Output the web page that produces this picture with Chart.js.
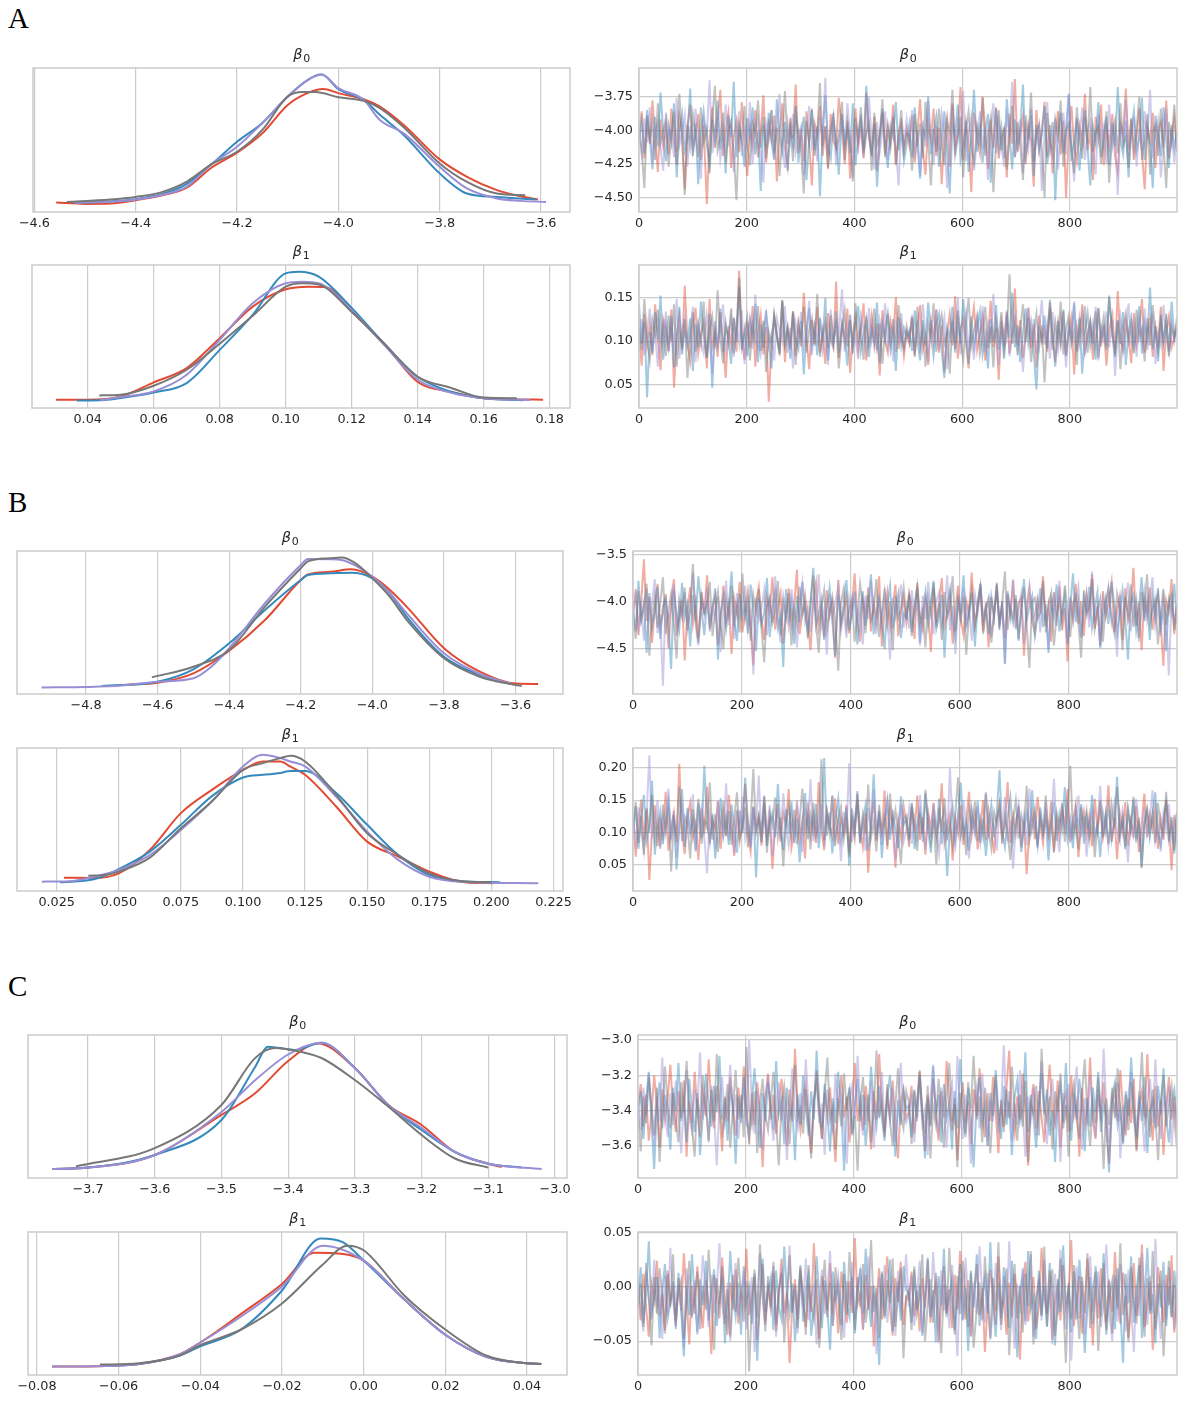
<!DOCTYPE html>
<html>
<head>
<meta charset="utf-8">
<script src="https://cdn.jsdelivr.net/npm/chart.js@4.4.1/dist/chart.umd.min.js"></script>
<style>
  html, body { margin: 0; background: #fff; }
  #fig { position: relative; width: 1183px; height: 1401px; overflow: hidden; }
  #fig canvas { position: absolute; }
  .letter { position: absolute; font: 29px "Liberation Serif", serif; line-height: 29px; color: #000; }
</style>
</head>
<body>
<div id="fig">
  <div class="letter" style="left:8px;top:4px">A</div>
  <div class="letter" style="left:8px;top:488px">B</div>
  <div class="letter" style="left:8px;top:972px">C</div>
</div>
<script>
// ---- chain colours (chain 0..3) ----
const CHAIN_COLORS = ['#E24A33', '#348ABD', '#988ED5', '#777777'];
const TRACE_COLORS = ['rgba(226,74,51,0.45)', 'rgba(52,138,189,0.45)', 'rgba(152,142,213,0.45)', 'rgba(119,119,119,0.45)'];

// ---- tick values ----
const kdeTicksA0 = [-4.6, -4.4, -4.2, -4.0, -3.8, -3.6];
const kdeTicksA1 = [0.04, 0.06, 0.08, 0.10, 0.12, 0.14, 0.16, 0.18];
const kdeTicksB0 = [-4.8, -4.6, -4.4, -4.2, -4.0, -3.8, -3.6];
const kdeTicksB1 = [0.025, 0.050, 0.075, 0.100, 0.125, 0.150, 0.175, 0.200, 0.225];
const kdeTicksC0 = [-3.7, -3.6, -3.5, -3.4, -3.3, -3.2, -3.1, -3.0];
const kdeTicksC1 = [-0.08, -0.06, -0.04, -0.02, 0.00, 0.02, 0.04];
const drawTicks = [0, 200, 400, 600, 800];
const traceTicksA0 = [-4.50, -4.25, -4.00, -3.75];
const traceTicksA1 = [0.05, 0.10, 0.15];
const traceTicksB0 = [-4.5, -4.0, -3.5];
const traceTicksB1 = [0.05, 0.10, 0.15, 0.20];
const traceTicksC0 = [-3.6, -3.4, -3.2, -3.0];
const traceTicksC1 = [-0.05, 0.00, 0.05];

// ---- posterior densities [value, relative density] ----
const kdeA0Red = [[-4.557,0.022],[-4.50,0.012],[-4.45,0.015],[-4.40,0.04],[-4.35,0.075],[-4.30,0.134],[-4.25,0.29],[-4.20,0.403],[-4.15,0.551],[-4.10,0.768],[-4.06,0.86],[-4.03,0.889],[-4.00,0.858],[-3.95,0.812],[-3.918,0.755],[-3.871,0.615],[-3.80,0.352],[-3.746,0.219],[-3.687,0.117],[-3.64,0.07],[-3.606,0.045]];
const kdeA0Blue = [[-4.52,0.02],[-4.45,0.03],[-4.40,0.048],[-4.35,0.085],[-4.30,0.163],[-4.25,0.316],[-4.20,0.487],[-4.15,0.63],[-4.10,0.832],[-4.06,0.96],[-4.033,1.0],[-4.00,0.889],[-3.95,0.807],[-3.918,0.692],[-3.871,0.538],[-3.80,0.245],[-3.746,0.091],[-3.687,0.065],[-3.61,0.045]];
const kdeA0Purple = [[-4.52,0.02],[-4.45,0.028],[-4.40,0.045],[-4.35,0.08],[-4.30,0.142],[-4.25,0.316],[-4.20,0.449],[-4.15,0.63],[-4.10,0.832],[-4.06,0.96],[-4.033,1.0],[-4.00,0.896],[-3.95,0.807],[-3.918,0.653],[-3.871,0.551],[-3.80,0.295],[-3.746,0.13],[-3.687,0.053],[-3.64,0.035],[-3.59,0.027]];
const kdeA0Gray = [[-4.536,0.027],[-4.45,0.045],[-4.40,0.065],[-4.35,0.10],[-4.30,0.18],[-4.25,0.316],[-4.20,0.41],[-4.15,0.577],[-4.10,0.832],[-4.07,0.866],[-4.046,0.866],[-4.00,0.827],[-3.95,0.799],[-3.918,0.743],[-3.871,0.597],[-3.80,0.321],[-3.746,0.18],[-3.687,0.091],[-3.631,0.078]];

const kdeA1Red = [[0.0304,0.014],[0.04,0.014],[0.05,0.039],[0.06,0.147],[0.07,0.257],[0.08,0.487],[0.09,0.73],[0.10,0.863],[0.107,0.883],[0.112,0.88],[0.12,0.69],[0.13,0.44],[0.14,0.15],[0.15,0.075],[0.16,0.025],[0.17,0.016],[0.178,0.014]];
const kdeA1Blue = [[0.0367,0.008],[0.045,0.012],[0.05,0.027],[0.06,0.07],[0.07,0.142],[0.08,0.397],[0.09,0.666],[0.10,0.986],[0.104,0.998],[0.11,0.96],[0.12,0.72],[0.13,0.44],[0.14,0.19],[0.15,0.075],[0.16,0.025],[0.172,0.01]];
const kdeA1Purple = [[0.0437,0.01],[0.05,0.034],[0.06,0.078],[0.07,0.206],[0.08,0.474],[0.09,0.756],[0.10,0.91],[0.105,0.922],[0.11,0.91],[0.12,0.70],[0.13,0.43],[0.14,0.167],[0.15,0.068],[0.16,0.025],[0.174,0.012]];
const kdeA1Gray = [[0.0435,0.047],[0.05,0.052],[0.06,0.121],[0.07,0.244],[0.08,0.444],[0.09,0.659],[0.10,0.883],[0.105,0.91],[0.11,0.90],[0.12,0.69],[0.13,0.44],[0.14,0.19],[0.15,0.106],[0.16,0.03],[0.17,0.025]];

const kdeB0Red = [[-4.686,0.022],[-4.6,0.037],[-4.5,0.109],[-4.4,0.283],[-4.3,0.519],[-4.2,0.827],[-4.18,0.87],[-4.118,0.89],[-4.058,0.909],[-4.0,0.852],[-3.951,0.75],[-3.9,0.609],[-3.8,0.302],[-3.7,0.122],[-3.6,0.03],[-3.537,0.027]];
const kdeB0Blue = [[-4.756,0.012],[-4.6,0.045],[-4.5,0.14],[-4.4,0.34],[-4.3,0.596],[-4.2,0.827],[-4.18,0.865],[-4.118,0.878],[-4.058,0.883],[-4.0,0.84],[-3.951,0.725],[-3.9,0.53],[-3.8,0.237],[-3.7,0.096],[-3.639,0.045]];
const kdeB0Purple = [[-4.924,0.0],[-4.8,0.004],[-4.7,0.015],[-4.6,0.045],[-4.5,0.071],[-4.45,0.16],[-4.4,0.302],[-4.3,0.648],[-4.2,0.942],[-4.18,0.988],[-4.118,0.986],[-4.086,0.98],[-4.0,0.852],[-3.951,0.725],[-3.9,0.558],[-3.8,0.263],[-3.7,0.104],[-3.611,0.027]];
const kdeB0Gray = [[-4.616,0.078],[-4.5,0.16],[-4.4,0.288],[-4.3,0.622],[-4.2,0.917],[-4.18,0.97],[-4.118,0.994],[-4.086,1.0],[-4.05,0.96],[-4.0,0.84],[-3.951,0.698],[-3.9,0.506],[-3.8,0.225],[-3.7,0.083],[-3.6,0.02],[-3.583,0.012]];

const kdeB1Red = [[0.0279,0.052],[0.04,0.05],[0.05,0.086],[0.0625,0.266],[0.075,0.549],[0.0875,0.728],[0.1,0.882],[0.108,0.946],[0.115,0.946],[0.119,0.908],[0.125,0.844],[0.1375,0.6],[0.15,0.33],[0.1625,0.214],[0.175,0.099],[0.1875,0.022],[0.2008,0.009]];
const kdeB1Blue = [[0.0263,0.017],[0.04,0.04],[0.05,0.119],[0.0625,0.253],[0.075,0.459],[0.0875,0.68],[0.1,0.823],[0.108,0.844],[0.115,0.857],[0.119,0.874],[0.125,0.874],[0.1375,0.703],[0.15,0.459],[0.1625,0.227],[0.175,0.073],[0.1875,0.027],[0.2035,0.017]];
const kdeB1Purple = [[0.019,0.022],[0.03,0.025],[0.04,0.06],[0.05,0.112],[0.0625,0.227],[0.075,0.42],[0.0875,0.64],[0.1,0.908],[0.108,0.998],[0.115,0.972],[0.119,0.946],[0.125,0.908],[0.1375,0.676],[0.15,0.407],[0.1625,0.189],[0.175,0.06],[0.1875,0.022],[0.2189,0.009]];
const kdeB1Gray = [[0.0377,0.068],[0.045,0.075],[0.05,0.099],[0.0625,0.207],[0.075,0.433],[0.0875,0.64],[0.1,0.882],[0.108,0.934],[0.115,0.972],[0.1192,0.99],[0.125,0.946],[0.1375,0.69],[0.15,0.394],[0.1625,0.227],[0.175,0.086],[0.1875,0.027],[0.2,0.017]];

const kdeC0Red = [[-3.754,0.02],[-3.7,0.03],[-3.6,0.127],[-3.5,0.435],[-3.45,0.6],[-3.4,0.85],[-3.355,0.985],[-3.3,0.796],[-3.25,0.512],[-3.2,0.358],[-3.15,0.15],[-3.1,0.06],[-3.08,0.035]];
const kdeC0Blue = [[-3.75,0.02],[-3.7,0.03],[-3.6,0.127],[-3.5,0.396],[-3.45,0.8],[-3.43,0.96],[-3.39,0.935],[-3.35,0.99],[-3.3,0.796],[-3.25,0.512],[-3.2,0.319],[-3.15,0.15],[-3.1,0.06],[-3.05,0.03]];
const kdeC0Purple = [[-3.754,0.02],[-3.7,0.03],[-3.6,0.127],[-3.5,0.458],[-3.45,0.7],[-3.4,0.9],[-3.35,0.99],[-3.3,0.796],[-3.25,0.512],[-3.2,0.335],[-3.15,0.15],[-3.1,0.06],[-3.02,0.02]];
const kdeC0Gray = [[-3.718,0.04],[-3.6,0.18],[-3.5,0.512],[-3.45,0.87],[-3.42,0.95],[-3.38,0.92],[-3.35,0.873],[-3.3,0.704],[-3.25,0.5],[-3.2,0.281],[-3.15,0.1],[-3.1,0.03]];

const kdeC1Red = [[-0.0763,0.015],[-0.065,0.018],[-0.055,0.035],[-0.045,0.11],[-0.04,0.2],[-0.03,0.42],[-0.02,0.65],[-0.012,0.89],[-0.005,0.88],[0.0,0.83],[0.01,0.53],[0.02,0.26],[0.03,0.09],[0.04,0.04],[0.0435,0.035]];
const kdeC1Blue = [[-0.0646,0.02],[-0.055,0.035],[-0.045,0.1],[-0.04,0.17],[-0.03,0.3],[-0.02,0.6],[-0.0105,1.0],[-0.005,0.97],[0.0,0.83],[0.01,0.53],[0.02,0.26],[0.03,0.09],[0.04,0.04],[0.0435,0.035]];
const kdeC1Purple = [[-0.0763,0.015],[-0.065,0.018],[-0.055,0.035],[-0.045,0.11],[-0.04,0.2],[-0.03,0.4],[-0.02,0.63],[-0.01,0.945],[0.0,0.83],[0.01,0.53],[0.02,0.26],[0.03,0.09],[0.04,0.04],[0.0435,0.035]];
const kdeC1Gray = [[-0.0646,0.03],[-0.055,0.04],[-0.045,0.1],[-0.04,0.18],[-0.03,0.3],[-0.02,0.5],[-0.01,0.8],[-0.004,0.945],[0.0,0.91],[0.01,0.56],[0.02,0.3],[0.03,0.1],[0.04,0.04],[0.0435,0.035]];

// ---- sampled chains (every 5th draw) ----
const traceA0Red = [-4.02,-3.86,-4.21,-3.95,-4.10,-3.78,-4.05,-4.31,-3.92,-4.12,-3.99,-4.18,-3.84,-4.07,-4.26,-3.90,-4.01,-4.44,-3.97,-3.81,-4.15,-4.03,-3.88,-4.22,-3.96,-4.55,-4.08,-3.83,-4.13,-3.94,-3.70,-4.19,-4.00,-3.87,-4.28,-4.05,-3.93,-4.16,-3.79,-4.09,-4.34,-3.98,-4.11,-3.85,-4.20,-4.02,-3.74,-4.24,-3.96,-4.07,-3.89,-4.38,-4.01,-3.80,-4.14,-4.27,-3.91,-4.06,-3.66,-4.17,-3.99,-4.23,-3.86,-4.10,-4.41,-3.95,-4.04,-3.82,-4.19,-3.97,-4.29,-3.88,-4.08,-4.13,-3.76,-4.00,-4.25,-3.93,-4.36,-4.05,-3.84,-4.12,-3.98,-4.21,-3.72,-4.06,-4.16,-3.90,-4.30,-4.03,-3.87,-4.18,-3.96,-4.09,-3.81,-4.26,-4.02,-3.94,-4.14,-3.99,
  -4.11,-3.89,-4.24,-4.01,-3.77,-4.15,-4.33,-3.95,-4.07,-3.84,-4.19,-3.98,-4.40,-4.04,-3.91,-4.27,-3.80,-4.12,-4.02,-3.68,-4.22,-3.94,-4.09,-4.46,-3.87,-4.05,-4.17,-3.75,-4.00,-4.29,-3.92,-4.13,-3.83,-4.21,-4.06,-3.99,-4.35,-3.88,-4.10,-3.62,-4.16,-4.03,-3.90,-4.25,-3.97,-4.08,-4.42,-3.85,-4.14,-4.01,-3.79,-4.20,-3.96,-4.32,-4.07,-3.86,-4.18,-3.93,-4.50,-4.04,-3.82,-4.12,-4.23,-3.97,-4.09,-3.73,-4.15,-4.02,-4.37,-3.90,-4.06,-3.81,-4.26,-3.99,-4.11,-3.88,-4.19,-4.31,-3.95,-4.03,-3.69,-4.14,-3.92,-4.22,-4.05,-3.84,-4.17,-4.44,-3.98,-4.08,-3.87,-4.28,-4.00,-3.94,-4.13,-3.78,-4.21,-4.06,-3.91,-4.16];
const traceA0Blue = [-4.08,-3.93,-4.17,-3.85,-4.04,-4.29,-3.90,-4.12,-3.72,-4.01,-4.23,-3.97,-4.09,-3.80,-4.35,-4.02,-3.88,-4.15,-4.06,-3.69,-4.19,-3.95,-4.40,-4.03,-3.86,-4.11,-4.25,-3.92,-4.07,-3.78,-4.14,-4.00,-4.32,-3.89,-4.05,-3.64,-4.20,-3.98,-4.10,-4.27,-3.91,-4.06,-3.83,-4.18,-4.01,-4.45,-3.96,-4.13,-3.87,-4.08,-4.22,-3.77,-4.04,-4.16,-3.94,-4.30,-3.99,-4.11,-3.82,-4.24,-4.03,-3.90,-4.37,-4.07,-3.85,-4.15,-3.97,-4.49,-4.02,-3.74,-4.12,-4.21,-3.93,-4.06,-4.33,-3.88,-4.09,-3.99,-4.17,-3.80,-4.26,-4.04,-3.92,-4.14,-3.67,-4.01,-4.19,-3.95,-4.42,-4.08,-3.84,-4.10,-4.28,-3.97,-4.05,-3.79,-4.15,-4.00,-4.23,-4.11,
  -3.96,-4.20,-3.83,-4.10,-4.36,-3.99,-4.05,-3.75,-4.18,-4.02,-3.90,-4.27,-4.08,-3.86,-4.14,-4.47,-3.97,-4.03,-3.81,-4.22,-4.11,-3.93,-4.31,-4.06,-3.70,-4.16,-3.95,-4.24,-4.01,-3.88,-4.39,-4.09,-3.84,-4.13,-3.98,-4.21,-3.77,-4.04,-4.29,-3.92,-4.12,-4.00,-3.66,-4.19,-4.07,-3.89,-4.34,-3.96,-4.15,-4.03,-3.82,-4.25,-4.10,-3.94,-4.52,-4.05,-3.87,-4.17,-3.99,-3.73,-4.23,-4.08,-3.91,-4.30,-4.02,-3.85,-4.14,-4.41,-3.97,-4.09,-3.79,-4.20,-4.04,-3.90,-4.26,-3.95,-4.12,-3.68,-4.07,-4.18,-3.93,-4.35,-4.01,-3.86,-4.15,-4.06,-3.76,-4.22,-3.98,-4.11,-4.43,-3.89,-4.04,-4.19,-3.83,-4.08,-4.28,-3.96,-4.13,-4.00];
const traceA0Purple = [-4.05,-4.18,-3.91,-4.09,-3.83,-4.24,-4.00,-3.95,-4.13,-4.30,-3.87,-4.06,-3.99,-4.20,-3.76,-4.11,-4.02,-3.89,-4.27,-3.97,-4.14,-3.84,-4.07,-4.36,-3.93,-4.03,-3.63,-4.17,-4.01,-3.90,-4.22,-4.08,-3.81,-4.12,-3.96,-4.31,-4.04,-3.86,-4.19,-3.99,-4.10,-3.79,-4.25,-4.02,-3.92,-4.15,-4.39,-3.95,-4.06,-3.85,-4.21,-4.00,-3.73,-4.12,-4.28,-3.94,-4.08,-3.88,-4.16,-4.03,-3.97,-4.33,-4.05,-3.82,-4.11,-3.98,-4.23,-3.90,-4.07,-3.61,-4.18,-4.01,-3.87,-4.26,-4.09,-3.93,-4.14,-3.80,-4.04,-4.35,-3.96,-4.12,-3.89,-4.20,-4.02,-3.75,-4.08,-4.29,-3.94,-4.16,-4.00,-3.86,-4.22,-4.06,-3.91,-4.13,-4.41,-3.98,-4.10,-3.92,
  -4.09,-3.85,-4.21,-4.00,-4.34,-3.93,-4.12,-3.78,-4.06,-4.26,-3.97,-4.15,-3.88,-4.03,-4.43,-4.10,-3.82,-4.19,-3.95,-4.08,-3.71,-4.23,-4.01,-3.90,-4.30,-4.05,-3.86,-4.14,-3.98,-4.37,-4.04,-3.80,-4.17,-3.94,-4.11,-4.27,-3.89,-4.02,-3.64,-4.20,-4.07,-3.92,-4.32,-3.99,-4.13,-3.84,-4.24,-4.06,-3.96,-4.45,-4.01,-3.79,-4.16,-4.09,-3.91,-4.29,-4.03,-3.87,-4.18,-3.74,-4.10,-4.38,-3.95,-4.05,-3.83,-4.22,-4.00,-3.93,-4.14,-4.33,-3.88,-4.07,-3.97,-4.25,-3.81,-4.12,-4.02,-4.48,-3.94,-4.08,-3.77,-4.19,-4.04,-3.90,-4.27,-3.99,-4.15,-3.86,-4.06,-3.70,-4.21,-4.01,-3.92,-4.35,-4.10,-3.84,-4.17,-3.98,-4.24,-4.03];
const traceA0Gray = [-3.98,-4.14,-4.43,-3.89,-4.06,-3.94,-4.22,-3.80,-4.10,-4.01,-3.92,-4.27,-4.04,-3.86,-4.16,-3.73,-4.08,-4.48,-3.96,-4.12,-3.88,-4.03,-4.20,-3.83,-4.09,-3.99,-4.32,-3.91,-3.67,-4.15,-4.05,-3.87,-4.24,-4.00,-3.93,-4.18,-4.52,-3.97,-4.07,-3.82,-4.11,-4.26,-3.95,-4.02,-3.78,-4.13,-3.90,-4.21,-4.04,-3.85,-4.17,-3.98,-4.34,-4.06,-3.71,-4.10,-3.96,-4.23,-3.88,-4.01,-4.15,-4.47,-3.93,-4.08,-3.84,-4.19,-4.03,-3.65,-4.12,-3.97,-4.28,-4.00,-3.89,-4.14,-4.05,-3.79,-4.22,-3.94,-4.09,-4.38,-3.91,-4.06,-3.83,-4.17,-4.02,-3.95,-4.30,-3.87,-4.11,-4.04,-3.77,-4.20,-3.99,-4.13,-3.90,-4.25,-4.07,-3.85,-4.16,-4.02,
  -4.04,-4.30,-3.88,-4.12,-3.95,-4.21,-3.79,-4.07,-4.41,-3.99,-4.16,-3.84,-4.09,-4.26,-3.93,-4.02,-3.70,-4.18,-4.06,-3.90,-4.35,-4.00,-3.86,-4.13,-4.24,-3.97,-4.08,-3.76,-4.19,-4.03,-3.91,-4.46,-4.10,-3.85,-4.15,-3.98,-4.29,-4.05,-3.82,-4.20,-3.94,-4.11,-4.37,-3.89,-4.07,-3.72,-4.23,-4.01,-3.96,-4.14,-4.50,-3.87,-4.09,-4.18,-3.92,-4.04,-3.78,-4.27,-4.00,-3.95,-4.13,-4.32,-3.83,-4.06,-4.21,-3.90,-4.10,-3.68,-4.16,-4.02,-3.97,-4.25,-4.08,-3.86,-4.39,-4.03,-3.93,-4.17,-3.80,-4.11,-4.05,-4.28,-3.91,-4.14,-3.99,-3.75,-4.22,-4.07,-3.88,-4.33,-4.01,-3.96,-4.19,-3.84,-4.12,-4.43,-3.94,-4.09,-3.81,-4.15];

const traceA1Red = [0.108,0.072,0.131,0.095,0.119,0.084,0.142,0.101,0.067,0.125,0.112,0.089,0.136,0.047,0.104,0.128,0.091,0.163,0.099,0.077,0.115,0.138,0.086,0.107,0.121,0.069,0.148,0.094,0.110,0.082,0.133,0.101,0.058,0.117,0.096,0.126,0.088,0.180,0.103,0.079,0.122,0.093,0.140,0.071,0.109,0.130,0.085,0.116,0.031,0.098,0.127,0.106,0.090,0.145,0.076,0.113,0.100,0.134,0.083,0.119,0.094,0.155,0.105,0.068,0.124,0.097,0.139,0.087,0.111,0.074,0.132,0.102,0.092,0.168,0.081,0.118,0.099,0.137,0.064,0.108,0.126,0.089,0.114,0.143,0.078,0.104,0.129,0.095,0.120,0.061,0.135,0.100,0.087,0.123,0.106,0.150,0.091,0.116,0.083,0.110,
  0.097,0.128,0.084,0.113,0.141,0.091,0.106,0.073,0.122,0.101,0.136,0.087,0.118,0.064,0.109,0.131,0.095,0.151,0.080,0.114,0.125,0.099,0.069,0.117,0.139,0.090,0.108,0.127,0.078,0.104,0.146,0.093,0.115,0.056,0.121,0.102,0.133,0.086,0.111,0.160,0.096,0.124,0.081,0.107,0.138,0.092,0.119,0.070,0.129,0.100,0.113,0.088,0.144,0.105,0.076,0.120,0.097,0.134,0.083,0.110,0.127,0.062,0.116,0.098,0.142,0.089,0.108,0.123,0.079,0.103,0.137,0.094,0.118,0.072,0.112,0.130,0.085,0.157,0.101,0.090,0.121,0.106,0.075,0.132,0.096,0.114,0.148,0.087,0.109,0.125,0.082,0.117,0.099,0.139,0.066,0.111,0.128,0.093,0.104,0.120];
const traceA1Blue = [0.141,0.097,0.122,0.036,0.110,0.087,0.133,0.101,0.152,0.079,0.118,0.094,0.129,0.070,0.106,0.139,0.085,0.114,0.098,0.126,0.066,0.120,0.093,0.145,0.108,0.081,0.131,0.047,0.112,0.096,0.137,0.088,0.117,0.104,0.074,0.127,0.099,0.162,0.090,0.113,0.083,0.124,0.105,0.142,0.076,0.119,0.092,0.135,0.101,0.069,0.128,0.110,0.086,0.146,0.097,0.115,0.080,0.132,0.103,0.091,0.123,0.062,0.109,0.138,0.094,0.116,0.084,0.126,0.100,0.149,0.078,0.111,0.096,0.134,0.087,0.121,0.105,0.072,0.130,0.093,0.117,0.140,0.089,0.108,0.125,0.082,0.113,0.098,0.144,0.075,0.119,0.102,0.131,0.090,0.109,0.066,0.127,0.095,0.115,0.104,
  0.112,0.089,0.135,0.101,0.078,0.124,0.095,0.144,0.107,0.083,0.119,0.131,0.091,0.058,0.115,0.103,0.139,0.087,0.122,0.097,0.148,0.110,0.074,0.128,0.094,0.117,0.134,0.085,0.106,0.069,0.125,0.100,0.141,0.090,0.113,0.080,0.130,0.104,0.155,0.093,0.118,0.076,0.109,0.137,0.098,0.121,0.086,0.045,0.114,0.102,0.129,0.092,0.147,0.108,0.071,0.123,0.099,0.136,0.084,0.116,0.105,0.143,0.088,0.126,0.063,0.111,0.132,0.096,0.119,0.079,0.138,0.101,0.115,0.090,0.150,0.107,0.082,0.124,0.097,0.133,0.073,0.112,0.127,0.094,0.109,0.140,0.086,0.120,0.103,0.161,0.091,0.117,0.077,0.130,0.100,0.122,0.088,0.145,0.105,0.114];
const traceA1Purple = [0.099,0.125,0.084,0.113,0.137,0.092,0.107,0.071,0.121,0.101,0.134,0.088,0.116,0.096,0.148,0.080,0.111,0.127,0.093,0.104,0.139,0.076,0.118,0.100,0.087,0.130,0.109,0.063,0.123,0.095,0.114,0.142,0.089,0.106,0.128,0.082,0.119,0.097,0.135,0.074,0.110,0.124,0.091,0.153,0.102,0.085,0.117,0.131,0.094,0.108,0.078,0.126,0.112,0.099,0.140,0.087,0.115,0.069,0.121,0.105,0.133,0.093,0.109,0.146,0.084,0.118,0.101,0.127,0.090,0.114,0.073,0.136,0.098,0.122,0.107,0.159,0.088,0.111,0.125,0.095,0.104,0.080,0.129,0.113,0.092,0.138,0.100,0.117,0.086,0.124,0.108,0.143,0.096,0.112,0.077,0.120,0.103,0.132,0.091,0.110,
  0.103,0.130,0.087,0.117,0.095,0.142,0.109,0.076,0.124,0.100,0.136,0.090,0.113,0.128,0.068,0.106,0.121,0.097,0.150,0.085,0.115,0.132,0.093,0.108,0.079,0.126,0.102,0.140,0.088,0.119,0.098,0.154,0.111,0.073,0.123,0.094,0.135,0.083,0.107,0.129,0.092,0.116,0.065,0.110,0.138,0.099,0.125,0.086,0.113,0.147,0.096,0.120,0.080,0.133,0.104,0.089,0.127,0.112,0.070,0.118,0.101,0.145,0.091,0.114,0.131,0.084,0.108,0.122,0.097,0.139,0.078,0.116,0.102,0.134,0.093,0.125,0.060,0.111,0.129,0.088,0.106,0.143,0.095,0.119,0.082,0.123,0.100,0.137,0.090,0.115,0.128,0.074,0.110,0.096,0.141,0.105,0.087,0.120,0.099,0.113];
const traceA1Gray = [0.115,0.090,0.148,0.102,0.079,0.124,0.108,0.136,0.094,0.117,0.083,0.129,0.100,0.142,0.071,0.111,0.095,0.125,0.058,0.106,0.133,0.088,0.119,0.097,0.145,0.081,0.112,0.128,0.092,0.158,0.104,0.075,0.121,0.099,0.137,0.086,0.114,0.172,0.093,0.109,0.127,0.078,0.118,0.101,0.140,0.089,0.123,0.065,0.110,0.096,0.131,0.105,0.084,0.147,0.098,0.116,0.091,0.134,0.073,0.120,0.103,0.139,0.087,0.113,0.126,0.095,0.154,0.082,0.107,0.122,0.092,0.130,0.100,0.118,0.069,0.111,0.135,0.094,0.124,0.086,0.143,0.101,0.116,0.079,0.128,0.097,0.109,0.137,0.090,0.120,0.074,0.114,0.132,0.099,0.125,0.088,0.141,0.105,0.093,0.117,
  0.100,0.126,0.082,0.139,0.094,0.113,0.071,0.120,0.105,0.143,0.088,0.117,0.130,0.097,0.109,0.063,0.123,0.091,0.135,0.102,0.079,0.119,0.149,0.095,0.111,0.128,0.086,0.106,0.139,0.092,0.116,0.070,0.124,0.103,0.133,0.089,0.110,0.176,0.097,0.121,0.084,0.114,0.142,0.099,0.127,0.076,0.108,0.131,0.093,0.118,0.053,0.106,0.137,0.090,0.122,0.101,0.145,0.085,0.115,0.129,0.096,0.112,0.073,0.125,0.104,0.140,0.087,0.119,0.098,0.134,0.081,0.110,0.128,0.094,0.152,0.107,0.090,0.123,0.068,0.116,0.132,0.100,0.119,0.086,0.136,0.103,0.114,0.077,0.126,0.095,0.141,0.108,0.089,0.122,0.099,0.131,0.083,0.117,0.104,0.127];

const traceB0Red = [-4.15,-3.87,-4.36,-4.02,-3.55,-4.21,-3.95,-4.44,-4.08,-3.81,-4.27,-4.12,-3.92,-4.50,-4.05,-3.76,-4.31,-4.18,-3.98,-4.63,-4.10,-3.85,-4.24,-4.01,-4.39,-3.90,-4.14,-3.72,-4.29,-4.07,-3.94,-4.47,-4.17,-3.83,-4.22,-4.03,-4.56,-3.97,-4.13,-3.79,-4.33,-4.09,-3.89,-4.26,-4.68,-4.00,-3.84,-4.19,-4.41,-3.96,-4.11,-3.74,-4.30,-4.06,-3.91,-4.45,-4.16,-3.86,-4.23,-4.04,-3.66,-4.35,-4.12,-3.93,-4.20,-4.52,-3.99,-3.80,-4.28,-4.08,-4.38,-3.88,-4.15,-4.02,-4.60,-3.77,-4.25,-4.10,-3.95,-4.34,-4.06,-3.70,-4.19,-4.43,-3.98,-4.13,-3.85,-4.32,-4.01,-4.21,-3.73,-4.48,-4.09,-3.90,-4.27,-4.05,-3.82,-4.37,-4.14,-3.96,
  -4.22,-3.91,-4.05,-4.40,-3.80,-4.16,-4.30,-3.97,-4.10,-4.54,-3.86,-4.19,-4.03,-3.75,-4.27,-4.12,-3.94,-4.45,-4.07,-3.83,-4.20,-4.36,-3.99,-4.14,-3.69,-4.25,-4.08,-3.88,-4.32,-4.01,-4.49,-3.95,-4.17,-3.82,-4.23,-4.06,-4.39,-3.92,-4.13,-3.78,-4.28,-4.02,-3.96,-4.58,-4.11,-3.87,-4.21,-4.34,-3.98,-4.09,-3.73,-4.26,-4.04,-4.43,-3.90,-4.15,-3.84,-4.31,-4.07,-4.64,-3.97,-4.18,-3.81,-4.24,-4.00,-4.37,-3.93,-4.12,-3.71,-4.29,-4.05,-4.47,-3.89,-4.16,-4.02,-3.79,-4.33,-4.10,-3.95,-4.41,-3.86,-4.20,-4.08,-3.64,-4.26,-4.01,-4.52,-3.98,-4.14,-3.85,-4.30,-4.06,-3.92,-4.23,-4.69,-3.99,-4.11,-3.76,-4.35,-4.03];
const traceB0Blue = [-4.08,-4.32,-3.78,-4.19,-4.02,-4.55,-3.91,-4.26,-4.11,-3.84,-4.40,-4.05,-3.97,-4.23,-4.72,-3.88,-4.14,-4.30,-3.80,-4.17,-4.03,-4.48,-3.93,-4.21,-3.73,-4.10,-4.36,-3.99,-4.25,-4.07,-3.86,-4.62,-4.13,-3.95,-4.29,-4.04,-3.68,-4.20,-4.42,-3.92,-4.16,-4.01,-4.34,-3.82,-4.09,-4.53,-3.96,-4.24,-4.12,-3.75,-4.38,-4.06,-3.90,-4.28,-4.15,-4.70,-3.87,-4.18,-4.00,-4.45,-3.94,-4.22,-3.79,-4.11,-4.33,-4.05,-3.64,-4.27,-4.14,-3.98,-4.41,-4.08,-3.85,-4.19,-4.58,-3.93,-4.23,-4.03,-3.77,-4.31,-4.10,-3.95,-4.46,-4.16,-3.89,-4.26,-4.01,-3.71,-4.35,-4.12,-3.97,-4.21,-4.51,-4.04,-3.83,-4.29,-4.07,-3.92,-4.39,-4.13,
  -4.18,-3.96,-4.33,-4.07,-3.85,-4.44,-4.12,-3.90,-4.25,-4.01,-3.78,-4.29,-4.15,-3.93,-4.60,-4.04,-3.87,-4.21,-4.38,-3.98,-4.09,-3.72,-4.26,-4.13,-3.91,-4.48,-4.02,-3.83,-4.19,-4.06,-4.35,-3.95,-4.16,-3.80,-4.30,-4.00,-4.67,-3.89,-4.11,-4.23,-3.97,-4.42,-4.08,-3.76,-4.20,-4.05,-3.94,-4.36,-4.14,-3.86,-4.27,-4.03,-4.55,-3.99,-4.17,-3.82,-4.32,-4.10,-3.92,-4.46,-4.06,-3.70,-4.22,-4.01,-4.39,-3.96,-4.13,-3.84,-4.28,-4.08,-3.90,-4.50,-4.15,-3.97,-4.24,-3.79,-4.05,-4.34,-4.11,-3.88,-4.19,-4.62,-4.02,-3.93,-4.31,-4.09,-3.74,-4.21,-4.00,-4.41,-3.95,-4.16,-3.86,-4.27,-4.07,-4.53,-3.98,-4.12,-3.81,-4.24];
const traceB0Purple = [-4.11,-3.93,-4.27,-4.05,-4.42,-3.86,-4.18,-4.01,-3.76,-4.34,-4.14,-4.90,-3.97,-4.22,-4.08,-3.81,-4.37,-4.03,-4.16,-3.90,-4.29,-4.10,-3.69,-4.24,-4.47,-3.99,-4.13,-3.85,-4.32,-4.06,-4.19,-3.95,-4.54,-4.09,-3.78,-4.25,-4.02,-4.40,-3.91,-4.15,-4.04,-3.83,-4.30,-4.12,-4.78,-3.96,-4.20,-4.07,-3.88,-4.36,-4.00,-4.23,-3.73,-4.17,-4.44,-3.94,-4.10,-4.28,-3.87,-4.13,-4.49,-4.02,-3.80,-4.21,-4.06,-4.33,-3.98,-4.15,-3.71,-4.26,-4.09,-4.57,-3.92,-4.18,-4.03,-3.84,-4.31,-4.11,-4.39,-3.97,-4.14,-3.89,-4.24,-4.05,-4.46,-3.94,-4.19,-3.77,-4.08,-4.35,-4.01,-4.22,-3.86,-4.12,-4.62,-3.96,-4.17,-4.04,-3.82,-4.28,
  -4.06,-4.29,-3.88,-4.14,-4.02,-4.47,-3.94,-4.19,-3.79,-4.10,-4.35,-4.00,-3.90,-4.24,-4.12,-3.72,-4.31,-4.05,-4.56,-3.97,-4.16,-3.85,-4.27,-4.03,-4.42,-3.93,-4.11,-3.81,-4.21,-4.08,-3.96,-4.38,-4.13,-3.87,-4.25,-4.01,-4.66,-3.99,-4.17,-3.76,-4.30,-4.09,-3.92,-4.45,-4.04,-3.83,-4.20,-4.14,-3.98,-4.33,-3.89,-4.10,-4.51,-4.02,-3.94,-4.26,-3.78,-4.15,-4.07,-4.40,-3.95,-4.22,-4.01,-3.84,-4.36,-4.12,-3.91,-4.28,-3.68,-4.18,-4.05,-4.47,-3.97,-4.13,-3.86,-4.23,-4.09,-4.59,-3.93,-4.16,-4.03,-3.80,-4.32,-4.08,-3.96,-4.43,-4.11,-3.88,-4.19,-4.00,-3.74,-4.26,-4.06,-4.37,-3.94,-4.15,-4.79,-3.99,-4.21,-4.04];
const traceB0Gray = [-4.13,-4.40,-3.89,-4.20,-4.06,-3.81,-4.58,-4.16,-3.95,-4.28,-4.02,-3.74,-4.35,-4.11,-3.92,-4.24,-4.61,-3.98,-4.15,-3.85,-4.31,-4.07,-3.60,-4.19,-4.44,-3.94,-4.12,-4.03,-3.79,-4.37,-4.09,-3.90,-4.26,-4.51,-3.97,-4.14,-3.83,-4.22,-4.04,-4.33,-3.70,-4.18,-4.00,-4.42,-3.93,-4.10,-3.87,-4.29,-4.65,-4.05,-3.96,-4.23,-4.11,-3.78,-4.36,-4.01,-4.17,-3.91,-4.47,-4.08,-4.25,-3.84,-4.14,-4.03,-4.39,-3.99,-3.72,-4.21,-4.55,-4.06,-3.88,-4.30,-4.12,-3.95,-4.19,-4.74,-4.02,-3.86,-4.27,-4.10,-3.97,-4.43,-4.16,-3.81,-4.05,-4.34,-3.93,-4.20,-4.08,-3.76,-4.38,-4.13,-3.90,-4.24,-4.00,-4.52,-3.94,-4.18,-4.07,-3.85,
  -4.19,-3.92,-4.37,-4.05,-3.84,-4.23,-4.10,-4.49,-3.97,-4.14,-3.80,-4.28,-4.02,-4.41,-3.90,-4.16,-4.07,-3.73,-4.32,-4.00,-4.20,-3.95,-4.57,-4.11,-3.87,-4.25,-4.03,-3.81,-4.35,-4.09,-3.98,-4.44,-4.13,-3.89,-4.22,-4.01,-3.68,-4.30,-4.06,-4.17,-3.93,-4.40,-4.08,-3.85,-4.26,-4.71,-4.00,-3.96,-4.18,-4.12,-3.78,-4.33,-4.04,-3.91,-4.47,-4.15,-3.99,-4.21,-3.83,-4.09,-4.38,-4.02,-3.94,-4.24,-4.60,-3.88,-4.13,-4.06,-3.76,-4.29,-4.10,-3.97,-4.43,-4.01,-3.86,-4.19,-4.34,-3.92,-4.07,-4.52,-3.95,-4.15,-3.82,-4.27,-4.04,-4.39,-3.90,-4.11,-3.71,-4.22,-4.08,-3.98,-4.46,-4.14,-3.87,-4.25,-4.00,-3.93,-4.31,-4.05];

const traceB1Red = [0.128,0.063,0.112,0.151,0.089,0.135,0.027,0.104,0.142,0.079,0.118,0.096,0.163,0.072,0.109,0.131,0.085,0.206,0.101,0.067,0.124,0.146,0.092,0.113,0.058,0.137,0.098,0.171,0.083,0.120,0.106,0.149,0.075,0.127,0.094,0.158,0.110,0.064,0.133,0.088,0.116,0.175,0.099,0.071,0.140,0.103,0.125,0.080,0.155,0.093,0.121,0.044,0.108,0.144,0.086,0.130,0.114,0.167,0.077,0.102,0.138,0.090,0.119,0.060,0.147,0.097,0.126,0.084,0.178,0.107,0.073,0.134,0.111,0.095,0.153,0.082,0.122,0.100,0.143,0.069,0.117,0.091,0.160,0.105,0.078,0.129,0.038,0.113,0.148,0.087,0.123,0.099,0.165,0.074,0.136,0.108,0.046,0.119,0.092,0.141,
  0.115,0.078,0.139,0.101,0.157,0.089,0.124,0.066,0.132,0.107,0.146,0.093,0.119,0.176,0.085,0.111,0.129,0.057,0.122,0.098,0.142,0.081,0.116,0.163,0.095,0.127,0.074,0.109,0.150,0.088,0.134,0.103,0.068,0.120,0.145,0.092,0.113,0.178,0.084,0.126,0.099,0.140,0.077,0.118,0.036,0.106,0.131,0.090,0.155,0.112,0.083,0.128,0.100,0.148,0.071,0.121,0.094,0.137,0.108,0.167,0.087,0.117,0.143,0.062,0.110,0.133,0.096,0.125,0.079,0.152,0.104,0.138,0.091,0.114,0.173,0.086,0.123,0.059,0.130,0.102,0.147,0.080,0.119,0.097,0.141,0.070,0.111,0.160,0.093,0.128,0.105,0.135,0.075,0.121,0.089,0.150,0.116,0.042,0.127,0.098];
const traceB1Blue = [0.097,0.141,0.075,0.123,0.158,0.088,0.112,0.180,0.066,0.104,0.132,0.082,0.119,0.150,0.094,0.127,0.043,0.109,0.167,0.078,0.138,0.101,0.120,0.071,0.146,0.091,0.203,0.114,0.085,0.129,0.060,0.106,0.153,0.096,0.124,0.081,0.143,0.110,0.069,0.134,0.099,0.185,0.116,0.087,0.139,0.031,0.122,0.103,0.157,0.079,0.113,0.130,0.093,0.175,0.107,0.073,0.136,0.098,0.148,0.084,0.121,0.054,0.111,0.161,0.090,0.126,0.102,0.144,0.076,0.117,0.215,0.095,0.131,0.068,0.115,0.152,0.088,0.108,0.139,0.049,0.125,0.100,0.164,0.083,0.119,0.142,0.072,0.110,0.190,0.097,0.133,0.061,0.118,0.147,0.089,0.127,0.105,0.076,0.156,0.112,
  0.120,0.092,0.146,0.075,0.113,0.134,0.086,0.161,0.104,0.069,0.127,0.098,0.152,0.082,0.118,0.033,0.109,0.140,0.090,0.125,0.177,0.096,0.115,0.072,0.136,0.103,0.149,0.084,0.121,0.064,0.110,0.143,0.093,0.129,0.196,0.101,0.078,0.124,0.154,0.088,0.117,0.137,0.070,0.106,0.131,0.094,0.165,0.112,0.080,0.139,0.099,0.122,0.057,0.114,0.147,0.087,0.128,0.105,0.170,0.091,0.119,0.076,0.135,0.108,0.144,0.083,0.126,0.100,0.158,0.095,0.113,0.062,0.130,0.102,0.141,0.089,0.116,0.186,0.097,0.123,0.074,0.137,0.106,0.151,0.085,0.118,0.047,0.111,0.134,0.093,0.127,0.162,0.099,0.081,0.121,0.145,0.090,0.114,0.068,0.132];
const traceB1Purple = [0.118,0.086,0.139,0.104,0.071,0.127,0.219,0.095,0.113,0.150,0.079,0.122,0.099,0.168,0.090,0.134,0.062,0.111,0.145,0.087,0.125,0.103,0.159,0.074,0.116,0.140,0.093,0.037,0.129,0.107,0.082,0.148,0.114,0.097,0.176,0.088,0.121,0.068,0.136,0.101,0.155,0.092,0.119,0.077,0.131,0.110,0.188,0.084,0.124,0.098,0.142,0.064,0.115,0.133,0.089,0.161,0.106,0.080,0.128,0.095,0.149,0.112,0.070,0.137,0.102,0.182,0.087,0.120,0.096,0.143,0.078,0.126,0.108,0.157,0.091,0.117,0.056,0.132,0.100,0.207,0.085,0.123,0.146,0.094,0.113,0.072,0.138,0.104,0.166,0.090,0.127,0.081,0.120,0.151,0.097,0.135,0.059,0.111,0.144,0.086,
  0.104,0.137,0.083,0.121,0.096,0.158,0.110,0.074,0.129,0.092,0.145,0.101,0.067,0.118,0.135,0.088,0.199,0.107,0.079,0.126,0.094,0.150,0.113,0.060,0.131,0.098,0.141,0.085,0.117,0.163,0.091,0.124,0.106,0.072,0.138,0.100,0.155,0.087,0.119,0.044,0.112,0.143,0.095,0.127,0.081,0.168,0.103,0.122,0.076,0.134,0.097,0.148,0.089,0.115,0.183,0.102,0.070,0.130,0.109,0.140,0.084,0.120,0.099,0.157,0.093,0.125,0.063,0.116,0.136,0.090,0.111,0.172,0.096,0.128,0.078,0.119,0.146,0.101,0.086,0.133,0.107,0.054,0.124,0.092,0.152,0.114,0.082,0.139,0.098,0.121,0.165,0.088,0.113,0.071,0.130,0.105,0.144,0.094,0.118,0.080];
const traceB1Gray = [0.109,0.147,0.084,0.126,0.066,0.138,0.100,0.158,0.091,0.120,0.075,0.143,0.105,0.131,0.040,0.116,0.094,0.171,0.087,0.124,0.112,0.060,0.136,0.098,0.152,0.083,0.119,0.107,0.177,0.089,0.128,0.070,0.114,0.149,0.096,0.133,0.081,0.121,0.162,0.092,0.104,0.139,0.077,0.117,0.198,0.101,0.125,0.086,0.145,0.069,0.130,0.111,0.154,0.093,0.123,0.048,0.115,0.141,0.097,0.135,0.082,0.119,0.168,0.103,0.127,0.074,0.146,0.095,0.110,0.213,0.088,0.132,0.100,0.157,0.079,0.122,0.140,0.090,0.118,0.063,0.137,0.106,0.150,0.085,0.128,0.099,0.174,0.092,0.116,0.071,0.143,0.102,0.125,0.080,0.160,0.108,0.134,0.094,0.052,0.121,
  0.126,0.090,0.144,0.105,0.072,0.131,0.098,0.166,0.115,0.085,0.122,0.051,0.138,0.101,0.153,0.093,0.112,0.079,0.129,0.185,0.097,0.117,0.065,0.135,0.108,0.148,0.087,0.121,0.094,0.160,0.103,0.076,0.132,0.114,0.141,0.083,0.124,0.099,0.058,0.119,0.150,0.091,0.127,0.106,0.172,0.088,0.113,0.136,0.080,0.122,0.100,0.157,0.095,0.118,0.069,0.130,0.109,0.145,0.086,0.125,0.203,0.098,0.116,0.074,0.139,0.104,0.133,0.089,0.120,0.062,0.111,0.149,0.093,0.127,0.082,0.142,0.107,0.170,0.096,0.119,0.078,0.134,0.102,0.155,0.090,0.123,0.045,0.114,0.137,0.099,0.128,0.084,0.146,0.110,0.097,0.163,0.087,0.124,0.073,0.132];

const traceC0Red = [-3.38,-3.25,-3.49,-3.31,-3.57,-3.42,-3.20,-3.36,-3.61,-3.28,-3.45,-3.33,-3.14,-3.40,-3.52,-3.29,-3.44,-3.23,-3.66,-3.35,-3.47,-3.18,-3.39,-3.55,-3.30,-3.43,-3.11,-3.37,-3.50,-3.26,-3.41,-3.63,-3.32,-3.46,-3.21,-3.38,-3.54,-3.27,-3.44,-3.15,-3.36,-3.59,-3.30,-3.48,-3.24,-3.40,-3.72,-3.34,-3.19,-3.45,-3.31,-3.53,-3.37,-3.22,-3.42,-3.60,-3.28,-3.46,-3.05,-3.39,-3.51,-3.33,-3.25,-3.47,-3.64,-3.35,-3.17,-3.41,-3.56,-3.30,-3.43,-3.27,-3.49,-3.69,-3.36,-3.20,-3.44,-3.32,-3.58,-3.38,-3.13,-3.46,-3.34,-3.51,-3.26,-3.40,-3.62,-3.29,-3.45,-3.08,-3.37,-3.55,-3.31,-3.42,-3.23,-3.48,-3.67,-3.35,-3.28,-3.44,
  -3.41,-3.26,-3.53,-3.35,-3.18,-3.45,-3.63,-3.31,-3.48,-3.22,-3.39,-3.57,-3.29,-3.44,-3.12,-3.37,-3.51,-3.33,-3.68,-3.40,-3.24,-3.47,-3.35,-3.59,-3.28,-3.43,-3.16,-3.38,-3.55,-3.30,-3.46,-3.21,-3.41,-3.64,-3.34,-3.49,-3.27,-3.06,-3.42,-3.53,-3.32,-3.45,-3.19,-3.38,-3.71,-3.36,-3.25,-3.50,-3.29,-3.44,-3.58,-3.33,-3.14,-3.40,-3.47,-3.23,-3.61,-3.37,-3.30,-3.52,-3.20,-3.43,-3.35,-3.66,-3.27,-3.48,-3.39,-3.10,-3.45,-3.56,-3.31,-3.42,-3.24,-3.50,-3.70,-3.36,-3.28,-3.46,-3.17,-3.40,-3.54,-3.33,-3.47,-3.22,-3.62,-3.38,-3.29,-3.44,-3.08,-3.41,-3.57,-3.26,-3.49,-3.34,-3.65,-3.37,-3.21,-3.45,-3.32,-3.52];
const traceC0Blue = [-3.42,-3.29,-3.56,-3.34,-3.18,-3.47,-3.73,-3.37,-3.24,-3.50,-3.31,-3.44,-3.62,-3.27,-3.40,-3.13,-3.46,-3.35,-3.58,-3.22,-3.39,-3.52,-3.30,-3.65,-3.43,-3.19,-3.36,-3.49,-3.26,-3.41,-3.09,-3.45,-3.33,-3.57,-3.28,-3.38,-3.70,-3.32,-3.47,-3.21,-3.43,-3.55,-3.35,-3.16,-3.40,-3.61,-3.30,-3.46,-3.24,-3.37,-3.51,-3.12,-3.42,-3.34,-3.59,-3.27,-3.44,-3.38,-3.68,-3.31,-3.48,-3.20,-3.39,-3.54,-3.29,-3.45,-3.06,-3.36,-3.50,-3.25,-3.42,-3.63,-3.33,-3.47,-3.18,-3.40,-3.74,-3.35,-3.28,-3.53,-3.37,-3.22,-3.46,-3.31,-3.60,-3.41,-3.15,-3.38,-3.49,-3.26,-3.44,-3.57,-3.32,-3.20,-3.43,-3.66,-3.34,-3.48,-3.29,-3.39,
  -3.37,-3.55,-3.28,-3.46,-3.20,-3.40,-3.67,-3.33,-3.49,-3.15,-3.42,-3.31,-3.58,-3.25,-3.44,-3.36,-3.62,-3.29,-3.50,-3.11,-3.39,-3.53,-3.27,-3.45,-3.72,-3.34,-3.21,-3.47,-3.38,-3.60,-3.30,-3.43,-3.17,-3.41,-3.56,-3.26,-3.48,-3.35,-3.65,-3.32,-3.23,-3.46,-3.39,-3.07,-3.52,-3.31,-3.44,-3.61,-3.36,-3.19,-3.42,-3.28,-3.54,-3.40,-3.69,-3.34,-3.25,-3.47,-3.13,-3.43,-3.57,-3.30,-3.45,-3.22,-3.38,-3.63,-3.33,-3.49,-3.27,-3.41,-3.18,-3.52,-3.36,-3.44,-3.75,-3.31,-3.24,-3.48,-3.39,-3.59,-3.29,-3.43,-3.10,-3.37,-3.55,-3.32,-3.46,-3.21,-3.64,-3.40,-3.34,-3.50,-3.26,-3.42,-3.16,-3.45,-3.58,-3.35,-3.28,-3.47];
const traceC0Purple = [-3.36,-3.51,-3.27,-3.43,-3.19,-3.39,-3.60,-3.32,-3.46,-3.10,-3.41,-3.55,-3.30,-3.48,-3.23,-3.37,-3.64,-3.34,-3.17,-3.44,-3.52,-3.28,-3.40,-3.07,-3.45,-3.33,-3.58,-3.26,-3.42,-3.71,-3.35,-3.21,-3.47,-3.38,-3.14,-3.43,-3.31,-3.56,-3.40,-3.25,-3.49,-3.00,-3.36,-3.53,-3.29,-3.44,-3.62,-3.33,-3.20,-3.41,-3.57,-3.37,-3.24,-3.46,-3.32,-3.68,-3.39,-3.16,-3.43,-3.50,-3.30,-3.45,-3.11,-3.38,-3.59,-3.34,-3.22,-3.47,-3.36,-3.65,-3.28,-3.42,-3.53,-3.19,-3.40,-3.31,-3.48,-3.70,-3.35,-3.26,-3.44,-3.09,-3.39,-3.54,-3.32,-3.46,-3.23,-3.61,-3.37,-3.42,-3.18,-3.50,-3.33,-3.45,-3.27,-3.58,-3.38,-3.13,-3.41,-3.47,
  -3.43,-3.30,-3.58,-3.36,-3.21,-3.47,-3.39,-3.65,-3.33,-3.14,-3.44,-3.52,-3.27,-3.40,-3.61,-3.35,-3.24,-3.48,-3.09,-3.42,-3.56,-3.31,-3.45,-3.70,-3.37,-3.26,-3.50,-3.19,-3.41,-3.60,-3.34,-3.46,-3.23,-3.53,-3.38,-3.03,-3.44,-3.29,-3.57,-3.36,-3.48,-3.17,-3.40,-3.66,-3.32,-3.45,-3.27,-3.54,-3.39,-3.12,-3.43,-3.59,-3.35,-3.22,-3.47,-3.38,-3.69,-3.30,-3.42,-3.25,-3.51,-3.36,-3.15,-3.44,-3.62,-3.33,-3.48,-3.20,-3.40,-3.55,-3.28,-3.46,-3.05,-3.39,-3.58,-3.34,-3.42,-3.24,-3.67,-3.37,-3.49,-3.31,-3.18,-3.45,-3.53,-3.29,-3.41,-3.63,-3.35,-3.22,-3.47,-3.11,-3.43,-3.56,-3.32,-3.40,-3.26,-3.60,-3.38,-3.44];
const traceC0Gray = [-3.40,-3.63,-3.32,-3.47,-3.21,-3.38,-3.54,-3.27,-3.69,-3.43,-3.15,-3.36,-3.50,-3.30,-3.45,-3.58,-3.24,-3.41,-3.12,-3.37,-3.49,-3.66,-3.33,-3.44,-3.20,-3.39,-3.57,-3.28,-3.46,-3.08,-3.35,-3.52,-3.42,-3.25,-3.61,-3.38,-3.17,-3.45,-3.31,-3.55,-3.04,-3.40,-3.48,-3.29,-3.64,-3.36,-3.22,-3.43,-3.51,-3.34,-3.18,-3.46,-3.71,-3.37,-3.26,-3.42,-3.59,-3.32,-3.14,-3.44,-3.39,-3.53,-3.28,-3.47,-3.67,-3.35,-3.23,-3.41,-3.56,-3.30,-3.10,-3.45,-3.38,-3.62,-3.33,-3.49,-3.19,-3.40,-3.27,-3.54,-3.43,-3.74,-3.36,-3.21,-3.48,-3.31,-3.58,-3.39,-3.06,-3.44,-3.34,-3.52,-3.25,-3.46,-3.60,-3.37,-3.16,-3.42,-3.50,-3.29,
  -3.35,-3.59,-3.29,-3.44,-3.17,-3.41,-3.53,-3.26,-3.67,-3.38,-3.48,-3.22,-3.40,-3.61,-3.33,-3.13,-3.46,-3.36,-3.72,-3.30,-3.43,-3.55,-3.24,-3.39,-3.09,-3.45,-3.32,-3.58,-3.27,-3.42,-3.64,-3.35,-3.20,-3.47,-3.37,-3.52,-3.28,-3.44,-3.15,-3.40,-3.57,-3.31,-3.49,-3.23,-3.69,-3.36,-3.42,-3.26,-3.54,-3.05,-3.38,-3.46,-3.32,-3.62,-3.29,-3.41,-3.19,-3.50,-3.37,-3.66,-3.34,-3.25,-3.45,-3.56,-3.30,-3.11,-3.43,-3.60,-3.36,-3.47,-3.21,-3.40,-3.73,-3.33,-3.48,-3.27,-3.44,-3.16,-3.39,-3.58,-3.31,-3.51,-3.24,-3.42,-3.63,-3.35,-3.07,-3.46,-3.38,-3.55,-3.28,-3.43,-3.68,-3.34,-3.20,-3.49,-3.37,-3.26,-3.45,-3.61];

const traceC1Red = [-0.004,-0.031,0.012,-0.019,-0.046,0.003,-0.012,0.024,-0.027,-0.007,-0.040,0.015,-0.015,-0.002,-0.036,0.008,-0.022,0.031,-0.010,-0.053,0.001,-0.025,0.019,-0.013,-0.038,0.006,-0.018,-0.062,0.011,-0.006,-0.029,0.027,-0.011,-0.044,0.004,-0.021,0.016,-0.034,-0.003,-0.016,0.035,-0.026,-0.008,0.009,-0.049,-0.014,0.021,-0.032,-0.001,-0.020,0.013,-0.041,-0.009,0.026,-0.024,-0.005,-0.070,-0.017,0.007,-0.030,0.018,-0.012,-0.037,0.002,-0.023,0.040,-0.015,-0.048,0.010,-0.006,-0.028,0.022,-0.019,-0.003,-0.043,0.014,-0.011,-0.033,0.005,-0.024,0.045,-0.016,-0.007,-0.039,0.011,-0.021,0.001,-0.055,-0.013,0.017,-0.030,-0.004,0.028,-0.020,-0.045,0.008,-0.014,0.023,-0.035,-0.009,
  -0.012,0.014,-0.027,-0.004,-0.041,0.008,-0.019,0.025,-0.033,-0.009,0.003,-0.050,-0.015,0.019,-0.024,-0.002,-0.038,0.011,-0.021,0.033,-0.006,-0.030,0.006,-0.046,-0.013,0.021,-0.026,-0.001,-0.060,-0.017,0.016,-0.008,-0.035,0.028,-0.020,-0.011,-0.044,0.004,-0.028,0.012,-0.016,-0.067,-0.003,0.023,-0.032,-0.010,0.009,-0.039,-0.018,0.036,-0.007,-0.025,0.015,-0.049,-0.014,0.002,-0.031,0.020,-0.022,-0.005,0.043,-0.036,-0.012,0.010,-0.043,-0.019,0.026,-0.008,-0.054,0.001,-0.029,0.017,-0.015,-0.040,0.007,-0.023,0.032,-0.011,-0.034,0.013,-0.004,-0.047,-0.020,0.022,-0.027,-0.009,0.039,-0.037,-0.014,0.005,-0.058,-0.021,0.018,-0.006,-0.033,0.011,-0.017,0.029,-0.042,-0.010];
const traceC1Blue = [-0.015,0.018,-0.033,-0.006,0.042,-0.024,-0.011,0.009,-0.047,-0.002,0.021,-0.029,-0.014,0.005,-0.039,0.013,-0.020,-0.064,0.001,-0.026,0.030,-0.010,-0.042,0.007,-0.017,0.024,-0.031,-0.005,0.016,-0.036,-0.012,0.010,-0.052,-0.021,0.033,-0.008,-0.027,0.004,-0.044,0.019,-0.016,-0.001,-0.034,0.012,-0.068,-0.010,0.026,-0.023,-0.004,0.008,-0.040,0.015,-0.019,-0.030,0.037,-0.007,-0.025,0.003,-0.050,-0.013,0.020,-0.032,-0.003,0.011,-0.045,-0.018,0.028,-0.009,-0.038,0.006,-0.022,-0.058,0.014,-0.011,0.002,-0.035,0.023,-0.016,-0.028,0.009,-0.043,-0.005,0.017,-0.024,0.035,-0.012,-0.037,0.001,-0.020,-0.072,0.012,-0.027,-0.008,0.025,-0.041,-0.014,0.005,-0.031,0.019,-0.003,
  -0.006,-0.033,0.016,-0.021,0.002,-0.045,-0.012,0.027,-0.028,-0.003,-0.051,0.010,-0.017,0.035,-0.025,-0.008,0.006,-0.040,-0.014,0.021,-0.031,-0.001,-0.059,0.013,-0.019,0.030,-0.036,-0.010,0.008,-0.024,0.041,-0.015,-0.046,0.004,-0.029,0.018,-0.007,-0.038,0.024,-0.013,-0.065,-0.004,0.011,-0.032,0.033,-0.020,-0.009,-0.048,0.015,-0.026,0.001,-0.037,0.022,-0.011,-0.054,0.007,-0.023,0.038,-0.016,-0.002,-0.042,0.014,-0.030,0.025,-0.008,-0.061,-0.018,0.009,-0.034,0.019,-0.005,-0.027,0.031,-0.044,-0.012,0.005,-0.039,0.017,-0.021,-0.070,0.012,-0.015,0.028,-0.033,-0.003,0.020,-0.047,-0.010,0.036,-0.025,-0.007,-0.052,0.003,-0.019,0.023,-0.036,0.000,-0.028,0.015,-0.013];
const traceC1Purple = [0.008,-0.022,-0.041,0.014,-0.010,-0.030,0.025,-0.017,-0.003,-0.048,0.010,-0.026,0.036,-0.013,-0.034,0.002,-0.020,-0.057,0.017,-0.008,-0.029,0.006,-0.044,-0.015,0.029,-0.005,-0.037,0.011,-0.024,-0.001,0.040,-0.018,-0.032,0.004,-0.050,-0.011,0.022,-0.027,-0.006,0.015,-0.039,-0.014,0.009,-0.060,-0.021,0.031,-0.009,-0.035,0.003,-0.016,0.019,-0.046,-0.004,0.012,-0.028,-0.012,0.038,-0.023,-0.002,-0.043,0.007,-0.019,0.026,-0.031,-0.010,0.001,-0.053,-0.015,0.016,-0.025,-0.007,0.033,-0.036,-0.013,0.010,-0.021,-0.047,0.005,-0.017,0.023,-0.030,-0.001,0.013,-0.040,-0.011,0.028,-0.024,-0.006,-0.062,0.009,-0.018,0.020,-0.033,-0.009,0.004,-0.045,0.015,-0.020,-0.003,0.030,
  -0.018,0.011,-0.036,-0.007,0.024,-0.043,-0.014,0.006,-0.027,0.032,-0.009,-0.052,0.015,-0.022,0.001,-0.038,0.020,-0.016,-0.064,0.009,-0.030,0.027,-0.011,-0.045,0.004,-0.025,0.037,-0.006,-0.033,0.013,-0.049,-0.019,0.022,-0.002,-0.040,0.010,-0.028,0.042,-0.013,-0.057,0.003,-0.024,0.017,-0.035,-0.008,0.030,-0.046,-0.015,0.007,-0.031,0.025,-0.020,-0.004,-0.053,0.012,-0.026,0.034,-0.012,-0.039,0.000,-0.068,-0.017,0.019,-0.029,0.005,-0.044,-0.009,0.028,-0.023,-0.003,0.014,-0.037,-0.014,0.039,-0.021,-0.050,0.008,-0.032,0.021,-0.006,-0.041,0.016,-0.018,-0.060,0.002,-0.027,0.031,-0.011,-0.035,0.010,-0.024,0.044,-0.015,-0.048,0.006,-0.030,0.018,-0.008,-0.039,0.012];
const traceC1Gray = [-0.020,0.003,-0.037,0.022,-0.011,-0.054,0.009,-0.025,0.017,-0.006,-0.043,0.012,-0.018,0.030,-0.031,-0.004,0.006,-0.048,-0.014,0.024,-0.027,-0.009,0.014,-0.039,0.001,-0.021,0.034,-0.012,-0.058,0.008,-0.016,0.019,-0.034,-0.002,-0.046,0.011,-0.023,0.027,-0.010,-0.032,0.005,-0.078,-0.015,0.016,-0.028,0.039,-0.007,-0.041,0.010,-0.019,0.023,-0.035,-0.003,0.013,-0.051,-0.013,0.029,-0.024,0.002,-0.038,0.015,-0.008,-0.044,0.020,-0.017,-0.030,0.007,-0.056,-0.011,0.025,-0.022,0.004,-0.036,0.018,-0.009,-0.049,0.012,-0.026,0.032,-0.005,-0.040,0.009,-0.019,0.021,-0.033,-0.012,0.043,-0.023,-0.001,-0.047,0.014,-0.029,0.006,-0.015,0.026,-0.037,-0.008,0.017,-0.066,-0.010,
  -0.003,-0.040,0.019,-0.024,-0.009,0.030,-0.050,-0.016,0.007,-0.033,0.013,-0.020,-0.061,0.002,-0.028,0.036,-0.012,-0.044,0.010,-0.025,0.024,-0.006,-0.037,0.015,-0.056,-0.019,0.004,-0.031,0.028,-0.013,-0.047,0.008,-0.022,0.041,-0.035,-0.007,0.017,-0.063,-0.015,0.021,-0.029,0.001,-0.042,0.012,-0.018,0.033,-0.053,-0.010,0.006,-0.027,0.037,-0.036,-0.004,0.016,-0.045,-0.021,0.026,-0.011,-0.070,0.003,-0.030,0.020,-0.014,-0.048,0.009,-0.024,0.031,-0.038,-0.002,0.014,-0.059,-0.017,0.022,-0.032,0.005,-0.043,0.011,-0.020,0.040,-0.026,-0.008,-0.051,0.018,-0.013,-0.034,0.027,-0.005,-0.046,0.008,-0.022,0.033,-0.039,-0.011,0.015,-0.064,-0.019,0.024,-0.028,0.002,-0.035];

// draw index for each stored sample, spanning 0..999
const draws = traceA0Red.map((_, i) => Math.round(i * 999 / (traceA0Red.length - 1)));

// ---- layout: [left, top, right, bottom] of each plot area, axis ranges ----
const panels = [
  { kind: 'kde', box: [33, 68, 570, 212], range: [-4.6028, -3.5427], ticks: kdeTicksA0, dec: 1, sub: '0', series: [kdeA0Red, kdeA0Blue, kdeA0Purple, kdeA0Gray] },
  { kind: 'trace', box: [639, 68, 1177, 212], range: [-4.607, -3.538], ticks: traceTicksA0, dec: 2, sub: '0', series: [traceA0Red, traceA0Blue, traceA0Purple, traceA0Gray] },
  { kind: 'kde', box: [32, 265, 570, 408], range: [0.02312, 0.18615], ticks: kdeTicksA1, dec: 2, sub: '1', series: [kdeA1Red, kdeA1Blue, kdeA1Purple, kdeA1Gray] },
  { kind: 'trace', box: [639, 265, 1177, 408], range: [0.0239, 0.1867], ticks: traceTicksA1, dec: 2, sub: '1', series: [traceA1Red, traceA1Blue, traceA1Purple, traceA1Gray] },
  { kind: 'kde', box: [17, 551, 563, 694], range: [-4.9927, -3.4676], ticks: kdeTicksB0, dec: 1, sub: '0', series: [kdeB0Red, kdeB0Blue, kdeB0Purple, kdeB0Gray] },
  { kind: 'trace', box: [633, 551, 1177, 694], range: [-4.989, -3.46], ticks: traceTicksB0, dec: 1, sub: '0', series: [traceB0Red, traceB0Blue, traceB0Purple, traceB0Gray] },
  { kind: 'kde', box: [17, 748, 563, 891], range: [0.00902, 0.22883], ticks: kdeTicksB1, dec: 3, sub: '1', series: [kdeB1Red, kdeB1Blue, kdeB1Purple, kdeB1Gray] },
  { kind: 'trace', box: [633, 748, 1177, 891], range: [0.00994, 0.2304], ticks: traceTicksB1, dec: 2, sub: '1', series: [traceB1Red, traceB1Blue, traceB1Purple, traceB1Gray] },
  { kind: 'kde', box: [28, 1035, 567, 1178], range: [-3.79, -2.982], ticks: kdeTicksC0, dec: 1, sub: '0', series: [kdeC0Red, kdeC0Blue, kdeC0Purple, kdeC0Gray] },
  { kind: 'trace', box: [638, 1035, 1177, 1178], range: [-3.781, -2.972], ticks: traceTicksC0, dec: 1, sub: '0', series: [traceC0Red, traceC0Blue, traceC0Purple, traceC0Gray] },
  { kind: 'kde', box: [28, 1232, 567, 1375], range: [-0.0822, 0.0498], ticks: kdeTicksC1, dec: 2, sub: '1', series: [kdeC1Red, kdeC1Blue, kdeC1Purple, kdeC1Gray] },
  { kind: 'trace', box: [638, 1232, 1177, 1375], range: [-0.0812, 0.0505], ticks: traceTicksC1, dec: 2, sub: '1', series: [traceC1Red, traceC1Blue, traceC1Purple, traceC1Gray] },
];

const PAD_L = 40, PAD_R = 40, TITLE_H = 24, XAX_H = 26, YAX_W = 50;
const TEXT = '#262626', GRID = '#cccccc';
const tickFont = { family: 'DejaVu Sans', size: 12.8 };

const fmt = (v, dec) => v.toFixed(dec).replace('-', '\u2212');

function linearAxis(min, max, ticks, dec) {
  return {
    type: 'linear', min, max,
    afterBuildTicks: s => { s.ticks = ticks.map(v => ({ value: v })); },
    ticks: { callback: v => fmt(v, dec), color: TEXT, font: tickFont, padding: 4, maxRotation: 0, autoSkip: false },
    grid: { color: GRID, lineWidth: 1.2, drawTicks: false },
    border: { display: false },
  };
}

// frame round the plot area plus the italic parameter name above it
function frameAndTitle(sub) {
  return {
    id: 'frameAndTitle',
    afterDatasetsDraw(chart) {
      const { ctx, chartArea: a } = chart;
      ctx.save();
      ctx.strokeStyle = GRID;
      ctx.lineWidth = 1.5;
      ctx.strokeRect(a.left, a.top, a.right - a.left, a.bottom - a.top);

      ctx.fillStyle = TEXT;
      ctx.textBaseline = 'alphabetic';
      ctx.font = 'italic 14.5px "DejaVu Sans"';
      const wb = ctx.measureText('\u03B2').width;
      ctx.font = '11px "DejaVu Sans"';
      const ws = ctx.measureText(sub).width;
      const x0 = (a.left + a.right) / 2 - (wb + ws) / 2;
      ctx.font = 'italic 14.5px "DejaVu Sans"';
      ctx.fillText('\u03B2', x0, a.top - 9);
      ctx.font = '11px "DejaVu Sans"';
      ctx.fillText(sub, x0 + wb + 0.5, a.top - 6);
      ctx.restore();
    }
  };
}

const fig = document.getElementById('fig');

panels.forEach(p => {
  const [l, t, r, b] = p.box;
  const yw = p.kind === 'trace' ? YAX_W : 0;
  const w = (r - l) + PAD_L + yw + PAD_R;
  const h = (b - t) + TITLE_H + XAX_H;
  const canvas = document.createElement('canvas');
  canvas.width = w;
  canvas.height = h;
  canvas.style.left = (l - PAD_L - yw) + 'px';
  canvas.style.top = (t - TITLE_H) + 'px';
  canvas.style.width = w + 'px';
  canvas.style.height = h + 'px';
  fig.appendChild(canvas);

  const last = p.series.length - 1;
  let datasets, scales;
  if (p.kind === 'kde') {
    datasets = p.series.map((pts, i) => ({
      data: pts.map(([x, y]) => ({ x, y })),
      borderColor: CHAIN_COLORS[i],
      borderWidth: 2,
      pointRadius: 0,
      fill: false,
      cubicInterpolationMode: 'monotone',
      order: last - i,   // later chains painted over earlier ones
    }));
    const x = linearAxis(p.range[0], p.range[1], p.ticks, p.dec);
    x.afterFit = s => { s.height = XAX_H; };
    scales = { x, y: { type: 'linear', display: false, min: -0.05, max: 1.05 } };
  } else {
    datasets = p.series.map((vals, i) => ({
      data: vals.map((y, k) => ({ x: draws[k], y })),
      borderColor: TRACE_COLORS[i],
      borderWidth: 2,
      pointRadius: 0,
      fill: false,
      tension: 0,
      order: last - i,
    }));
    const x = linearAxis(0, 999, drawTicks, 0);
    x.afterFit = s => { s.height = XAX_H; };
    const y = linearAxis(p.range[0], p.range[1], p.ticks, p.dec);
    y.ticks.padding = 6;
    y.afterFit = s => { s.width = YAX_W; };
    scales = { x, y };
  }

  new Chart(canvas, {
    type: 'line',
    data: { datasets },
    options: {
      responsive: false,
      animation: false,
      devicePixelRatio: 1,
      events: [],
      layout: { padding: { left: PAD_L, right: PAD_R, top: TITLE_H, bottom: 0 } },
      plugins: { legend: { display: false }, tooltip: { enabled: false } },
      scales,
    },
    plugins: [frameAndTitle(p.sub)],
  });
});
</script>
</body>
</html>
